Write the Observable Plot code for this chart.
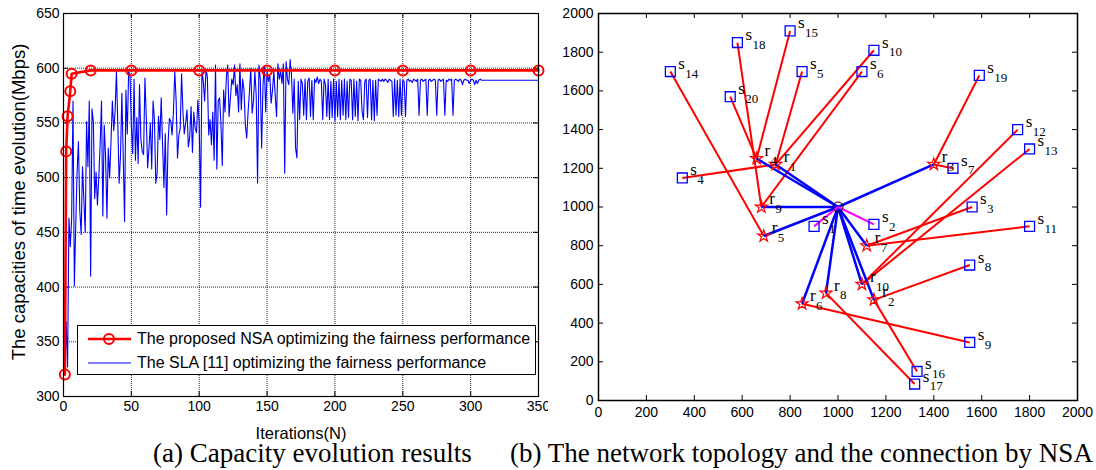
<!DOCTYPE html>
<html><head><meta charset="utf-8">
<script src="https://cdn.jsdelivr.net/npm/d3@7"></script>
<script src="https://cdn.jsdelivr.net/npm/@observablehq/plot@0.6"></script>
<style>
body{margin:0;background:#fff;}
#wrap{position:relative;width:1096px;height:470px;overflow:hidden;background:#fff;}
.panel{position:absolute;top:0;}
.cap{position:absolute;top:437px;font-family:"Liberation Serif","Times New Roman",serif;font-size:27px;line-height:32px;white-space:nowrap;color:#000;}
#legend{position:absolute;left:77px;top:325px;width:459px;height:50px;border:1px solid #000;background:#fff;box-sizing:border-box;font-family:"Liberation Sans",Arial,sans-serif;font-size:16px;color:#000;}
#legend .row{position:absolute;left:9px;height:24px;display:flex;align-items:center;white-space:nowrap;}
#legend svg{margin-right:4px;}
</style></head>
<body><div id="wrap">
<div id="left" class="panel" style="left:0"></div>
<div id="right" class="panel" style="left:548px"></div>
<div id="legend"></div>
<div class="cap" style="left:153px">(a) Capacity evolution results</div>
<div class="cap" style="left:510px">(b) The network topology and the connection by NSA</div>
</div>
<script>
// ---------- Panel (a): capacity evolution ----------
const capXTicks = [0, 50, 100, 150, 200, 250, 300, 350];
const capYTicks = [300, 350, 400, 450, 500, 550, 600, 650];
const nsaLabel = "The proposed NSA optimizing the fairness performance";
const slaLabel = "The SLA [11] optimizing the fairness performance";
const nsaIter = [1, 2, 3, 5, 6, 20, 50, 100, 150, 200, 250, 300, 350];
const nsaCap  = [320, 524, 556, 579, 595, 598, 598, 598, 598, 598, 598, 598, 598];
const slaLastIter = 350;
const slaCap = [
 320,368,327,463,437,463,570,401,455,505,
 533,470,448,510,480,450,551,510,570,410,
 563,551,481,505,475,500,530,570,465,548,
 520,463,527,500,533,570,543,560,597,550,
 495,520,577,520,460,580,540,597,594,548,
 522,590,516,555,513,585,535,524,521,591,
 555,509,527,550,508,570,553,495,504,556,
 535,573,530,491,540,466,530,554,552,539,
 560,597,570,518,539,545,595,560,540,550,
 562,528,537,565,523,560,545,541,571,550,
 473,597,588,570,599,592,539,553,530,560,
 516,603,508,570,573,549,511,580,560,592,
 603,556,573,590,585,603,575,585,560,604,
 562,590,580,548,536,560,578,600,559,570,
 597,575,495,603,590,527,585,602,560,597,
 588,594,568,580,597,575,556,604,590,597,
 586,604,504,606,590,585,608,594,559,590,
 527,518,588,553,590,586,557,590,553,588,
 591,556,589,553,590,587,592,586,590,588,
 553,590,585,556,590,553,588,555,590,552,
 588,556,590,553,589,557,590,553,588,555,
 590,589,553,590,556,588,552,590,589,560,
 553,588,590,555,589,590,553,589,552,589,
 557,590,589,588,590,588,590,589,587,590,
 589,588,556,590,557,589,556,590,557,589,
 588,556,589,590,588,589,587,590,589,588,
 590,557,589,590,588,589,590,557,589,590,
 588,589,590,589,557,589,590,588,589,590,
 557,589,588,590,589,590,557,589,590,589,
 588,590,589,585,589,590,589,589,586,589,
 590,589,585,589,586,589,590,589,589,
 589
];

// ---------- Panel (b): network topology ----------
const topoTicks = [0, 200, 400, 600, 800, 1000, 1200, 1400, 1600, 1800, 2000];
const baseStation = [1000, 1000];
const srcX = [900,1150,1560,350,850,1100,1480,1550,1550,1150,1800,1750,1800,300,800,1330,1320,580,1590,550];
const srcY = [900,910,1000,1150,1700,1700,1200,700,300,1810,900,1400,1300,1700,1910,150,85,1850,1680,1570];
const relX = [740,1150,1400,660,690,850,1120,950,680,1100];
const relY = [1220,520,1220,1250,850,500,800,555,1000,600];
// relay (1-based) serving each source; 0 = served directly by the base station
const srcRelay = [0,0,7,1,1,9,3,2,6,1,7,10,10,5,4,2,8,9,3,4];

// ---------- build tables ----------
const nsa = nsaIter.map((x, i) => ({x, y: nsaCap[i]}));
const sla = slaCap.map((y, i) => ({x: i < slaCap.length - 1 ? i + 1 : slaLastIter, y}));
const sources = srcX.map((x, i) => ({x, y: srcY[i], n: String(i + 1), relay: srcRelay[i]}));
const relays = relX.map((x, i) => ({x, y: relY[i], n: String(i + 1)}));
const hub = {x: baseStation[0], y: baseStation[1]};
const redLinks = sources.filter(s => s.relay > 0).map(s => ({x1: s.x, y1: s.y, x2: relays[s.relay - 1].x, y2: relays[s.relay - 1].y}));
const blueLinks = relays.map(r => ({x1: hub.x, y1: hub.y, x2: r.x, y2: r.y}));
const magLinks = sources.filter(s => s.relay === 0).map(s => ({x1: hub.x, y1: hub.y, x2: s.x, y2: s.y}));

const sans = "'Liberation Sans', Arial, Helvetica, sans-serif";
const serif = "'Liberation Serif', 'Times New Roman', serif";
const plain = d => String(d);

// ---------- left plot ----------
const L = {w: 548, h: 440, ml: 63, mr: 10, mt: 13, mb: 44};
const lpw = L.w - L.ml - L.mr, lph = L.h - L.mt - L.mb;
const left = Plot.plot({
  width: L.w, height: L.h,
  marginLeft: L.ml, marginRight: L.mr, marginTop: L.mt, marginBottom: L.mb,
  x: {domain: [0, 350]}, y: {domain: [300, 650]},
  style: {fontFamily: sans, fontSize: "14px", color: "#000", background: "#fff", overflow: "visible"},
  marks: [
    Plot.gridX(capXTicks, {stroke: "#000", strokeOpacity: 0.85, strokeDasharray: "1,1"}),
    Plot.gridY(capYTicks, {stroke: "#000", strokeOpacity: 0.85, strokeDasharray: "1,1"}),
    Plot.tickX(capXTicks, {x: d => d, insetTop: lph - 5, stroke: "#000"}),
    Plot.tickX(capXTicks, {x: d => d, insetBottom: lph - 5, stroke: "#000"}),
    Plot.tickY(capYTicks, {y: d => d, insetRight: lpw - 5, stroke: "#000"}),
    Plot.tickY(capYTicks, {y: d => d, insetLeft: lpw - 5, stroke: "#000"}),
    Plot.axisX(capXTicks, {tickSize: 0, tickPadding: 5, label: null, fontSize: 14, tickFormat: plain}),
    Plot.axisY(capYTicks, {tickSize: 0, tickPadding: 4, label: null, fontSize: 14, tickFormat: plain}),
    Plot.line(sla, {x: "x", y: "y", stroke: "#0000ff", strokeWidth: 1.1}),
    Plot.line(nsa, {x: "x", y: "y", stroke: "#ff0000", strokeWidth: 2.6}),
    Plot.dot(nsa, {x: "x", y: "y", r: 5, stroke: "#ff0000", strokeWidth: 2, fill: "none"}),
    Plot.text(["Iterations(N)"], {frameAnchor: "bottom", dy: 37, lineAnchor: "middle", textAnchor: "middle", fontSize: 16.5, fontFamily: sans, fill: "#000"}),
    Plot.text(["The capacities of time evolution(Mbps)"], {frameAnchor: "left", dx: -44, dy: -3, rotate: -90, textAnchor: "middle", lineAnchor: "middle", fontSize: 18.5, fontFamily: sans, fill: "#000"}),
    Plot.frame({stroke: "#000", strokeWidth: 1.2})
  ]
});
document.getElementById("left").appendChild(left);

// ---------- right plot ----------
const R = {w: 548, h: 440, ml: 50, mr: 19, mt: 13, mb: 40};
const rpw = R.w - R.ml - R.mr, rph = R.h - R.mt - R.mb;
const right = Plot.plot({
  width: R.w, height: R.h,
  marginLeft: R.ml, marginRight: R.mr, marginTop: R.mt, marginBottom: R.mb,
  x: {domain: [0, 2000]}, y: {domain: [0, 2000]},
  style: {fontFamily: sans, fontSize: "14px", color: "#000", background: "#fff", overflow: "visible"},
  marks: [
    Plot.tickX(topoTicks, {x: d => d, insetTop: rph - 5, stroke: "#000"}),
    Plot.tickX(topoTicks, {x: d => d, insetBottom: rph - 5, stroke: "#000"}),
    Plot.tickY(topoTicks, {y: d => d, insetRight: rpw - 5, stroke: "#000"}),
    Plot.tickY(topoTicks, {y: d => d, insetLeft: rpw - 5, stroke: "#000"}),
    Plot.axisX(topoTicks, {tickSize: 0, tickPadding: 7, label: null, fontSize: 14, tickFormat: plain}),
    Plot.axisY(topoTicks, {tickSize: 0, tickPadding: 5, label: null, fontSize: 14, tickFormat: plain}),
    Plot.link(redLinks, {x1: "x1", y1: "y1", x2: "x2", y2: "y2", stroke: "#ff0000", strokeWidth: 2}),
    Plot.link(blueLinks, {x1: "x1", y1: "y1", x2: "x2", y2: "y2", stroke: "#0000ff", strokeWidth: 2.5}),
    Plot.link(magLinks, {x1: "x1", y1: "y1", x2: "x2", y2: "y2", stroke: "#ff00ff", strokeWidth: 2}),
    Plot.dot(sources, {x: "x", y: "y", symbol: "square", r: 5.6, stroke: "#0000ff", strokeWidth: 1.3, fill: "none"}),
    Plot.dot(relays, {x: "x", y: "y", symbol: "star", r: 3.8, stroke: "#ff0000", strokeWidth: 1.2, fill: "none"}),
    Plot.dot([hub], {x: "x", y: "y", r: 5, stroke: "#000", strokeWidth: 1, fill: "none"}),
    Plot.text(sources, {x: "x", y: "y", text: () => "s", dx: 8, dy: -8, textAnchor: "start", fontSize: 17, fontFamily: serif, fill: "#000"}),
    Plot.text(sources, {x: "x", y: "y", text: "n", dx: 15, dy: 2, textAnchor: "start", fontSize: 13, fontFamily: serif, fill: "#000"}),
    Plot.text(relays, {x: "x", y: "y", text: () => "r", dx: 8, dy: -8, textAnchor: "start", fontSize: 17, fontFamily: serif, fill: "#000"}),
    Plot.text(relays, {x: "x", y: "y", text: "n", dx: 14, dy: 2, textAnchor: "start", fontSize: 13, fontFamily: serif, fill: "#000"}),
    Plot.frame({stroke: "#000", strokeWidth: 1.5})
  ]
});
document.getElementById("right").appendChild(right);

// ---------- legend for panel (a) ----------
const lg = document.getElementById("legend");
lg.innerHTML =
  `<div class="row" style="top:1px"><svg width="46" height="20"><line x1="1" y1="10" x2="44" y2="10" stroke="#ff0000" stroke-width="2.6"/><circle cx="22" cy="10" r="5" stroke="#ff0000" stroke-width="2" fill="none"/></svg><span>${nsaLabel}</span></div>` +
  `<div class="row" style="top:25px"><svg width="46" height="20"><line x1="1" y1="10" x2="44" y2="10" stroke="#0000ff" stroke-width="1.1"/></svg><span>${slaLabel}</span></div>`;
</script>
</body></html>
